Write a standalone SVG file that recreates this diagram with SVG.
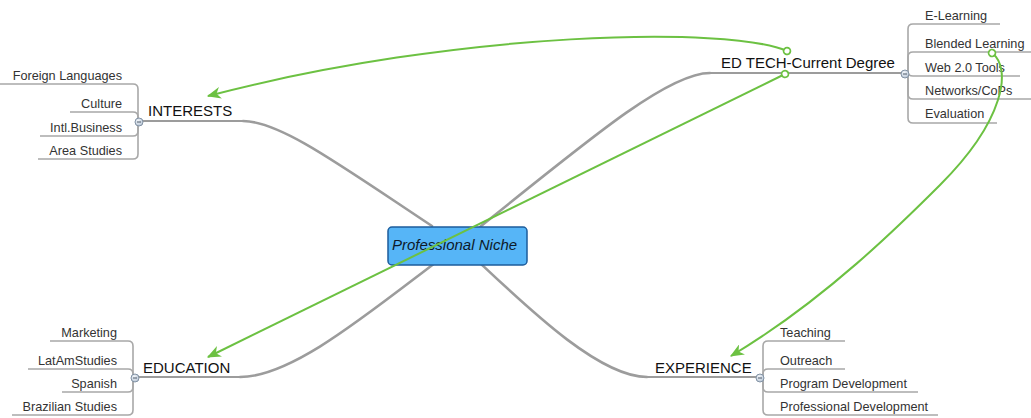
<svg xmlns="http://www.w3.org/2000/svg" width="1031" height="418" viewBox="0 0 1031 418">
<style>
.main{fill:none;stroke:#9c9c9c;stroke-width:2.6;stroke-linecap:round}
.under{fill:none;stroke:#9c9c9c;stroke-width:2}
.leaf{fill:none;stroke:#a8a8a8;stroke-width:1.6}
.lbl{font-family:"Liberation Sans",Arial,sans-serif;font-size:15px;fill:#111}
.ltxt{font-family:"Liberation Sans",Arial,sans-serif;font-size:12.7px;fill:#333}
.rel{fill:none;stroke:#6cc142;stroke-width:2}
.knob{fill:url(#kg);stroke:#8393a5;stroke-width:1}
.minus{stroke:#4a5868;stroke-width:1}
</style>
<defs>
<radialGradient id="kg" cx="0.4" cy="0.35" r="0.7">
<stop offset="0" stop-color="#f4f7fb"/>
<stop offset="1" stop-color="#b4c2d2"/>
</radialGradient>
<marker id="arr" markerUnits="userSpaceOnUse" markerWidth="14" markerHeight="12" viewBox="0 0 12 10" refX="11" refY="5" orient="auto">
<path d="M0,0 L12,5 L0,10 L3.5,5 Z" fill="#6cc142"/>
</marker>
<marker id="dot" markerUnits="userSpaceOnUse" markerWidth="10" markerHeight="10" viewBox="0 0 10 10" refX="5" refY="5" orient="auto">
<circle cx="5" cy="5" r="3.4" fill="#fff" stroke="#6cc142" stroke-width="1.8"/>
</marker>
</defs>
<rect width="1031" height="418" fill="#fff"/>

<g id="branches">
<path class="under" d="M140,121 H243"/>
<path class="main" d="M243,121 C280,121 340,165 432,226"/>
<path class="under" d="M710,73 H905"/>
<path class="main" d="M480,227 C600,130 670,73 710,73"/>
<path class="under" d="M135,377 H240"/>
<path class="main" d="M240,377 C290,377 360,320 435,263"/>
<path class="under" d="M647,377 H760"/>
<path class="main" d="M480,263 C530,310 600,377 647,377"/>
</g>

<g id="center">
<rect x="388" y="227" width="139" height="38" rx="4" fill="#56b5f7" stroke="#1d5c9c" stroke-width="1.5"/>
<text x="392" y="250" font-family="'Liberation Sans',Arial,sans-serif" font-size="15" font-style="italic" fill="#0d1a2a">Professional Niche</text>
</g>

<g id="interests">
<text class="lbl" x="148" y="116">INTERESTS</text>
<path class="leaf" d="M0,84 H133 Q138,84 138,89 V121"/>
<path class="leaf" d="M70,112 H133 Q138,112 138,117 V121"/>
<path class="leaf" d="M40,136 H133 Q138,136 138,131 V121"/>
<path class="leaf" d="M38,159 H133 Q138,159 138,154 V121"/>
<text class="ltxt" x="122" y="80" text-anchor="end">Foreign Languages</text>
<text class="ltxt" x="122" y="108" text-anchor="end">Culture</text>
<text class="ltxt" x="122" y="132" text-anchor="end">Intl.Business</text>
<text class="ltxt" x="122" y="155" text-anchor="end">Area Studies</text>
<circle class="knob" cx="139" cy="122" r="4"/>
<line class="minus" x1="137" y1="122" x2="141" y2="122"/>
</g>

<g id="edtech">
<text class="lbl" x="721" y="68">ED TECH-Current Degree</text>
<path class="leaf" d="M1000,24 H913 Q908,24 908,29 V73"/>
<path class="leaf" d="M1031,52 H913 Q908,52 908,57 V73"/>
<path class="leaf" d="M1020,76 H913 Q908,76 908,72"/>
<path class="leaf" d="M1031,99 H913 Q908,99 908,94 V73"/>
<path class="leaf" d="M997,123 H913 Q908,123 908,118 V73"/>
<text class="ltxt" x="925" y="20">E-Learning</text>
<text class="ltxt" x="925" y="48">Blended Learning</text>
<text class="ltxt" x="925" y="72">Web 2.0 Tools</text>
<text class="ltxt" x="925" y="95">Networks/CoPs</text>
<text class="ltxt" x="925" y="118">Evaluation</text>
<circle class="knob" cx="905" cy="74" r="4"/>
<line class="minus" x1="903" y1="74" x2="907" y2="74"/>
</g>

<g id="education">
<text class="lbl" x="143" y="373">EDUCATION</text>
<path class="leaf" d="M50,341 H128 Q133,341 133,346 V377"/>
<path class="leaf" d="M28,369 H128 Q133,369 133,374 V377"/>
<path class="leaf" d="M62,392 H128 Q133,392 133,387 V377"/>
<path class="leaf" d="M12,415 H128 Q133,415 133,410 V377"/>
<text class="ltxt" x="117" y="337" text-anchor="end">Marketing</text>
<text class="ltxt" x="117" y="365" text-anchor="end">LatAmStudies</text>
<text class="ltxt" x="117" y="388" text-anchor="end">Spanish</text>
<text class="ltxt" x="117" y="411" text-anchor="end">Brazilian Studies</text>
<circle class="knob" cx="135" cy="378" r="4"/>
<line class="minus" x1="133" y1="378" x2="137" y2="378"/>
</g>

<g id="experience">
<text class="lbl" x="655" y="373">EXPERIENCE</text>
<path class="leaf" d="M845,341 H768 Q763,341 763,346 V377"/>
<path class="leaf" d="M845,369 H768 Q763,369 763,374 V377"/>
<path class="leaf" d="M918,392 H768 Q763,392 763,387 V377"/>
<path class="leaf" d="M938,415 H768 Q763,415 763,410 V377"/>
<text class="ltxt" x="780" y="337">Teaching</text>
<text class="ltxt" x="780" y="365">Outreach</text>
<text class="ltxt" x="780" y="388">Program Development</text>
<text class="ltxt" x="780" y="411">Professional Development</text>
<circle class="knob" cx="760" cy="378" r="4"/>
<line class="minus" x1="758" y1="378" x2="762" y2="378"/>
</g>

<g id="relationships">
<path class="rel" d="M787,51 C730,26 460,30 208,96" marker-start="url(#dot)" marker-end="url(#arr)"/>
<path class="rel" d="M785,74 L208,357" marker-start="url(#dot)" marker-end="url(#arr)"/>
<path class="rel" d="M992,53 C1012,68 1005,120 940,185 C903,222 825,300 731,356" marker-start="url(#dot)" marker-end="url(#arr)"/>
</g>
</svg>
